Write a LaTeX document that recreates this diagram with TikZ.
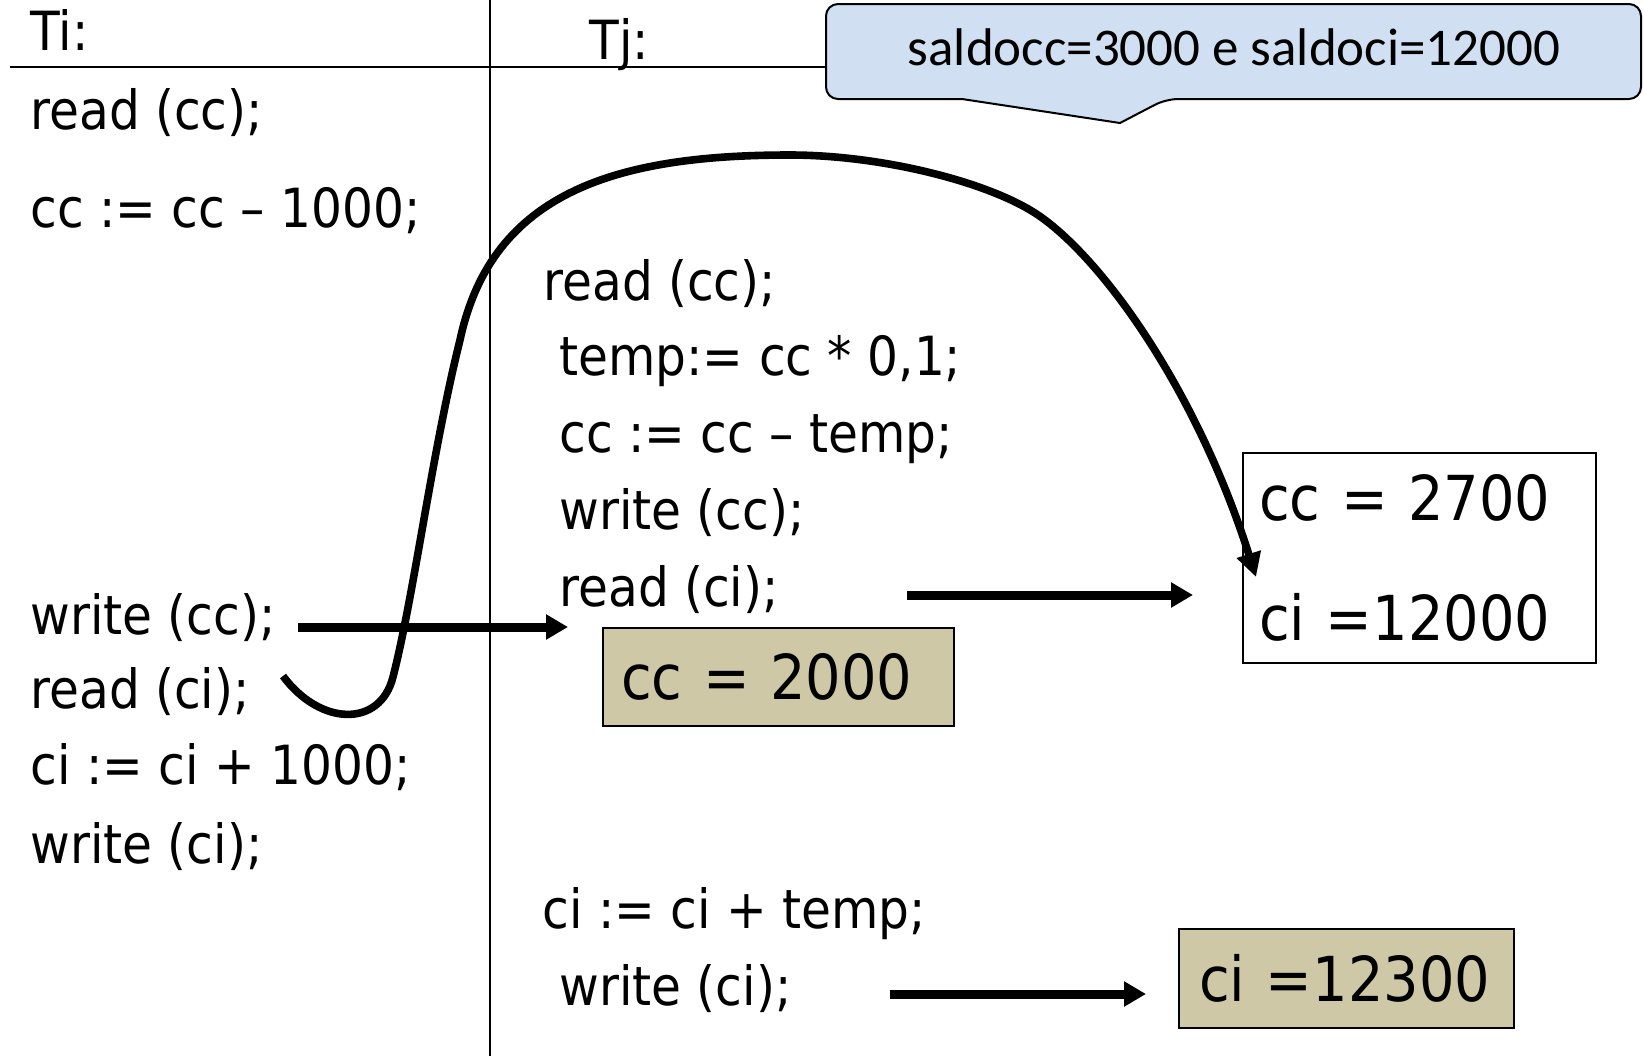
\documentclass[tikz,border=0pt]{standalone}
\usepackage{fontspec}
\setmainfont[FakeStretch=0.9]{DejaVu Sans}
\newfontfamily\calibri{Carlito}
\usetikzlibrary{arrows.meta}
\definecolor{khaki}{RGB}{206,200,167}
\definecolor{bubble}{RGB}{208,224,242}

\begin{document}
\begin{tikzpicture}[x=0.5pt,y=-0.5pt,
  code/.style={anchor=base west,inner sep=0pt,font=\fontsize{27}{30}\selectfont},
  val/.style={draw,line width=1pt,anchor=north west,inner ysep=0pt,align=left,font=\fontsize{31}{60}\selectfont},
  flow/.style={line width=4.5pt,-{Triangle[length=11pt,width=12pt]}},
  swap/.style={line width=3.8pt,-{Triangle[length=12pt,width=12pt]}}]
\useasboundingbox (0,0) rectangle (1644,1056);
\draw[line width=1pt] (490,0) -- (490,1056);
\draw[line width=1pt] (10,67) -- (826,67);
% initial balances
\draw[fill=bubble,line width=1pt,rounded corners=6pt] (826,51) -- (826,4) -- (1641,4) -- (1641,99) -- (1166,99) [sharp corners] -- (1120,123) -- (962,99) [rounded corners=6pt] -- (826,99) -- cycle;
\node[font=\calibri\fontsize{26.5}{30}\selectfont,anchor=base] (init) at (1234,65) {saldocc=3000 e saldoci=12000};
% transaction Ti
\node[code] (ti) at (30,50) {Ti:};
\node[code] (ti1) at (30,129) {read (cc);};
\node[code] (ti2) at (30,227) {cc := cc -- 1000;};
\node[code] (ti3) at (30,634) {write (cc);};
\node[code] (ti4) at (30,708) {read (ci);};
\node[code] (ti5) at (30,784) {ci := ci + 1000;};
\node[code] (ti6) at (30,863) {write (ci);};
% transaction Tj
\node[code] (tj) at (589,59) {Tj:};
\node[code] (tj1) at (543,300) {read (cc);};
\node[code] (tj2) at (559,375) {temp:= cc * 0,1;};
\node[code] (tj3) at (559,452) {cc := cc -- temp;};
\node[code] (tj4) at (559,529) {write (cc);};
\node[code] (tj5) at (559,606) {read (ci);};
\node[code] (tj6) at (542,928) {ci := ci + temp;};
\node[code] (tj7) at (559,1005) {write (ci);};
% values in the database
\node[val,fill=khaki,minimum width=175.5pt,minimum height=49pt,inner xsep=9pt,text width=157.5pt] (ccnew) at (602,627) {cc = 2000};
\node[val,minimum width=176.5pt,minimum height=105pt,inner xsep=8pt,text width=160.5pt] (state) at (1242,452) {cc = 2700\\ci =12000};
\node[val,fill=khaki,minimum width=167.5pt,minimum height=49.5pt,inner xsep=10pt,text width=147.5pt] (cinew) at (1178,928) {ci =12300};
\coordinate (w1) at (298,627); \coordinate (w1e) at (568,627);
\coordinate (w2) at (907,595); \coordinate (w2e) at (1193,595);
\coordinate (w3) at (890,994); \coordinate (w3e) at (1146,994);
\draw[flow] (w1) -- (w1e);
\draw[flow] (w2) -- (w2e);
\draw[flow] (w3) -- (w3e);
\coordinate (hookstart) at (283,676);
\coordinate (hookend) at (1256,577);
\draw[swap] (hookstart) .. controls (320,726) and (380,728) .. (393,677)
  .. controls (414,595) and (432,452) .. (460,340)
  .. controls (492,190) and (620,155) .. (790,155)
  .. controls (880,155) and (985,181) .. (1035,213)
  .. controls (1100,255) and (1196,388) .. (hookend);
\end{tikzpicture}
\end{document}
